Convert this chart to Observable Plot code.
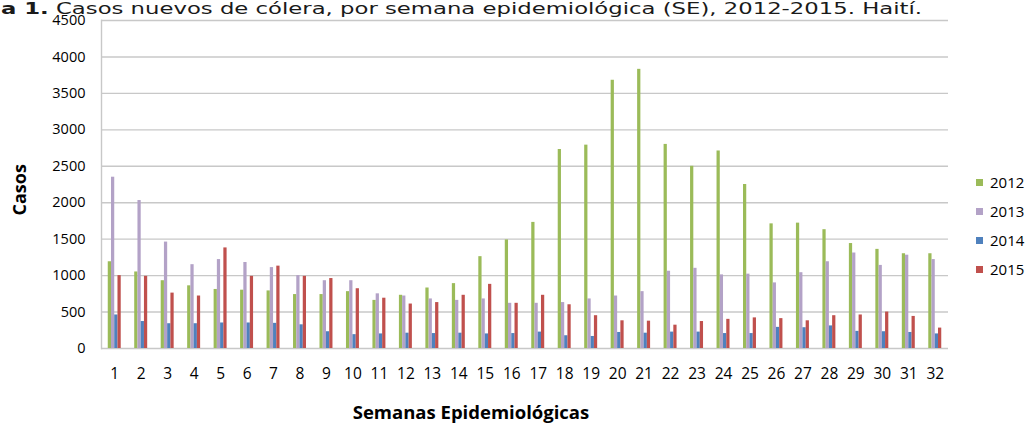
<!DOCTYPE html>
<html><head><meta charset="utf-8">
<script src="https://cdn.jsdelivr.net/npm/d3@7"></script>
<script src="https://cdn.jsdelivr.net/npm/@observablehq/plot@0.6"></script>
<style>
body{margin:0;background:#fff;}
#wrap{position:relative;width:1029px;height:428px;overflow:hidden;font-family:"Open Sans",sans-serif;background:#fff;}
#title{position:absolute;left:0;top:0;overflow:visible;}
#legend{position:absolute;left:976px;top:0;font-family:"Open Sans",sans-serif;font-size:15px;color:#000;}
.li{position:absolute;left:0;white-space:nowrap;height:16px;line-height:16px;}
.sw{display:inline-block;width:7px;height:7px;margin-right:7px;vertical-align:middle;position:relative;top:-1px;}
</style>
</head><body><div id="wrap"></div>
<script>
const weeks = [1,2,3,4,5,6,7,8,9,10,11,12,13,14,15,16,17,18,19,20,21,22,23,24,25,26,27,28,29,30,31,32];
const years = ["2012","2013","2014","2015"];
const colors = ["#9BBB59","#B3A2C7","#4F81BD","#C0504D"];
const c2012 = [1190,1050,930,860,810,800,790,740,740,780,660,730,830,890,1260,1490,1730,2730,2790,3680,3830,2800,2500,2710,2250,1710,1720,1630,1440,1360,1300,1300];
const c2013 = [2350,2030,1460,1150,1220,1180,1110,1000,930,930,750,720,680,660,680,620,620,630,680,720,780,1060,1100,1010,1020,900,1040,1190,1310,1140,1280,1220];
const c2014 = [460,370,340,340,350,350,345,325,230,190,200,210,205,210,200,205,225,175,165,220,210,225,225,205,205,290,285,310,235,230,220,200];
const c2015 = [1000,990,760,720,1380,990,1130,990,960,820,690,610,630,730,880,620,730,600,450,380,375,320,370,400,420,410,380,450,460,500,440,280];
const yTicks = [0,500,1000,1500,2000,2500,3000,3500,4000,4500];
const titleBold = "a 1.";
const titleRest = " Casos nuevos de cólera, por semana epidemiológica (SE), 2012-2015. Haití.";
const yLabel = "Casos";
const xLabel = "Semanas Epidemiológicas";

const seriesValues = [c2012, c2013, c2014, c2015];
const W = 1029, H = 428, ML = 101, MR = 81, MT = 20, MB = 80;
const padIn = 0.51, padOut = 0.255;
const step = (W - ML - MR) / (weeks.length - padIn + 2 * padOut);
const groupW = step * (1 - padIn);
const barW = groupW / years.length;

const barMarks = years.map((yr, k) => Plot.barY(
  weeks.map((w, i) => ({week: w, value: seriesValues[k][i], year: yr})),
  {x: "week", y: "value", fill: colors[k], insetLeft: k * barW, insetRight: (years.length - 1 - k) * barW}
));

const chart = Plot.plot({
  width: W, height: H,
  marginLeft: ML, marginRight: MR, marginTop: MT, marginBottom: MB,
  style: {fontFamily: "'Open Sans', sans-serif", fontSize: "14px", color: "#000", background: "transparent", overflow: "visible"},
  x: {type: "band", domain: weeks, paddingInner: padIn, paddingOuter: padOut, round: false, label: null},
  y: {domain: [0, 4500], label: null},
  marks: [
    Plot.ruleY(yTicks, {stroke: "#c8c8c8", strokeWidth: 1.4}),
    Plot.frame({anchor: "left", stroke: "#c8c8c8", strokeWidth: 1.4}),
    ...barMarks,
    Plot.axisY({ticks: yTicks, tickFormat: d => String(d), tickSize: 0, tickPadding: 16, label: null, fontSize: 14.5}),
    Plot.axisX({tickSize: 0, tickPadding: 19, label: null, fontSize: 15.5}),
    Plot.text([yLabel], {text: d => d, frameAnchor: "left", dx: -81, dy: 31, rotate: -90, fontWeight: "bold", fontSize: 18}),
    Plot.text([xLabel], {text: d => d, frameAnchor: "bottom", dx: -54, dy: 70, fontWeight: "bold", fontSize: 18.5})
  ]
});
const wrap = document.getElementById("wrap");
wrap.appendChild(chart);

// title
const ns = "http://www.w3.org/2000/svg";
const tsvg = document.createElementNS(ns, "svg");
tsvg.setAttribute("id", "title");
tsvg.setAttribute("width", W); tsvg.setAttribute("height", 24);
const t = document.createElementNS(ns, "text");
t.setAttribute("x", 1); t.setAttribute("y", 14);
t.setAttribute("font-family", "'DejaVu Sans', sans-serif");
t.setAttribute("font-size", "15");
t.setAttribute("fill", "#1a1a1a");
t.setAttribute("textLength", "921");
t.setAttribute("lengthAdjust", "spacingAndGlyphs");
const tb = document.createElementNS(ns, "tspan");
tb.setAttribute("font-weight", "bold"); tb.textContent = titleBold;
const tr = document.createElementNS(ns, "tspan");
tr.textContent = titleRest;
t.appendChild(tb); t.appendChild(tr);
tsvg.appendChild(t);
wrap.appendChild(tsvg);

// legend
const legendY = [182, 210.5, 239.5, 269];
const lg = document.createElement("div");
lg.id = "legend";
years.forEach((yr, k) => {
  const it = document.createElement("div");
  it.className = "li";
  it.style.top = (legendY[k] - 8) + "px";
  const sw = document.createElement("span");
  sw.className = "sw"; sw.style.background = colors[k];
  it.appendChild(sw);
  it.appendChild(document.createTextNode(yr));
  lg.appendChild(it);
});
wrap.appendChild(lg);
</script>
</body></html>
